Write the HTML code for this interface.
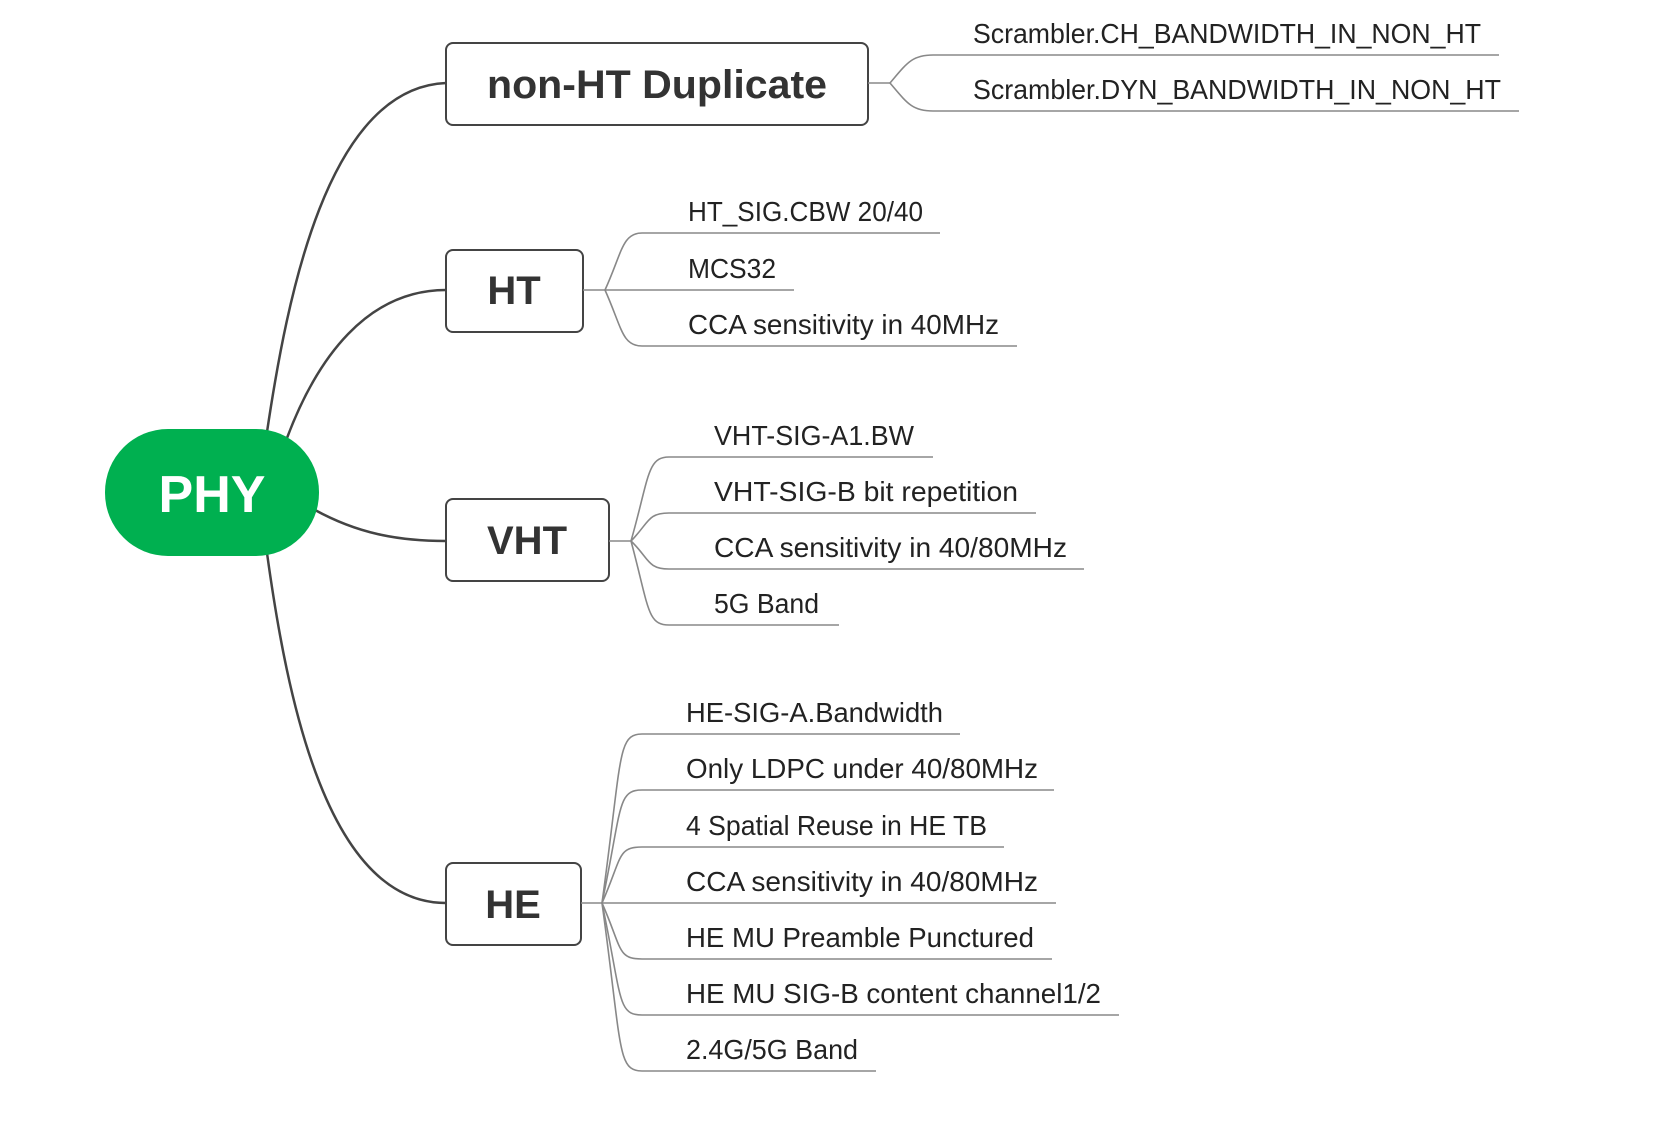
<!DOCTYPE html>
<html><head><meta charset="utf-8"><style>
html,body{margin:0;padding:0;background:#fff;}
svg{display:block;}
.b{font-family:"Liberation Sans",sans-serif;font-weight:bold;fill:#333;}
.l{font-family:"Liberation Sans",sans-serif;font-size:28px;fill:#222;}
</style></head><body>
<svg width="1666" height="1148" viewBox="0 0 1666 1148" xmlns="http://www.w3.org/2000/svg">
<g transform="translate(-3,-2)">
<g fill="none" stroke="#444" stroke-width="2.5">
<path d="M270 434 C290 300 330 90 449 85"/>
<path d="M290 440 C320 360 370 292 449 292"/>
<path d="M318 512 C360 535 400 543 449 543"/>
<path d="M270 555 C290 700 330 905 449 905"/>
</g>
<rect x="108" y="431" width="214" height="127" rx="63" fill="#00b050"/>
<text x="215" y="514" text-anchor="middle" class="b" style="fill:#fff;font-size:52px">PHY</text>
<g fill="#fff" stroke="#444" stroke-width="2">
<rect x="449" y="45" width="422" height="82" rx="7"/>
<rect x="449" y="252" width="137" height="82" rx="7"/>
<rect x="449" y="501" width="163" height="82" rx="7"/>
<rect x="449" y="865" width="135" height="82" rx="7"/>
</g>
<text x="660" y="100" text-anchor="middle" class="b" style="font-size:40px" textLength="340" lengthAdjust="spacingAndGlyphs">non-HT Duplicate</text>
<text x="517" y="306" text-anchor="middle" class="b" style="font-size:40px">HT</text>
<text x="530" y="556" text-anchor="middle" class="b" style="font-size:40px">VHT</text>
<text x="516" y="920" text-anchor="middle" class="b" style="font-size:40px">HE</text>
<g fill="none" stroke="#888" stroke-width="1.6">
<path d="M871 85 H893"/>
<path d="M893 85 C910 65 915 57 936 57 H1502"/>
<path d="M893 85 C910 105 915 113 936 113 H1522"/>
<path d="M586 292 H608"/>
<path d="M608 292 C625 255 625 235 645 235 H943"/>
<path d="M608 292 H797"/>
<path d="M608 292 C625 330 625 348 645 348 H1020"/>
<path d="M612 543 H634"/>
<path d="M634 543 C652 480 650 459 672 459 H936"/>
<path d="M634 543 C652 525 650 515 672 515 H1039"/>
<path d="M634 543 C652 560 650 571 672 571 H1087"/>
<path d="M634 543 C652 610 650 627 672 627 H842"/>
<path d="M584 905 H605"/>
<path d="M605 905 C625 760 620 736 645 736 H963"/>
<path d="M605 905 C625 810 620 792 645 792 H1057"/>
<path d="M605 905 C625 860 620 849 645 849 H1007"/>
<path d="M605 905 H1059"/>
<path d="M605 905 C625 950 620 961 645 961 H1055"/>
<path d="M605 905 C625 1000 620 1017 645 1017 H1122"/>
<path d="M605 905 C625 1050 620 1073 645 1073 H879"/>
</g>
<text class="l" x="976" y="45" textLength="508" lengthAdjust="spacingAndGlyphs">Scrambler.CH_BANDWIDTH_IN_NON_HT</text>
<text class="l" x="976" y="101" textLength="528" lengthAdjust="spacingAndGlyphs">Scrambler.DYN_BANDWIDTH_IN_NON_HT</text>
<text class="l" x="691" y="223" textLength="235" lengthAdjust="spacingAndGlyphs">HT_SIG.CBW 20/40</text>
<text class="l" x="691" y="280" textLength="88" lengthAdjust="spacingAndGlyphs">MCS32</text>
<text class="l" x="691" y="336" textLength="311" lengthAdjust="spacingAndGlyphs">CCA sensitivity in 40MHz</text>
<text class="l" x="717" y="447" textLength="200" lengthAdjust="spacingAndGlyphs">VHT-SIG-A1.BW</text>
<text class="l" x="717" y="503" textLength="304" lengthAdjust="spacingAndGlyphs">VHT-SIG-B bit repetition</text>
<text class="l" x="717" y="559" textLength="353" lengthAdjust="spacingAndGlyphs">CCA sensitivity in 40/80MHz</text>
<text class="l" x="717" y="615" textLength="105" lengthAdjust="spacingAndGlyphs">5G Band</text>
<text class="l" x="689" y="724" textLength="257" lengthAdjust="spacingAndGlyphs">HE-SIG-A.Bandwidth</text>
<text class="l" x="689" y="780" textLength="352" lengthAdjust="spacingAndGlyphs">Only LDPC under 40/80MHz</text>
<text class="l" x="689" y="837" textLength="301" lengthAdjust="spacingAndGlyphs">4 Spatial Reuse in HE TB</text>
<text class="l" x="689" y="893" textLength="352" lengthAdjust="spacingAndGlyphs">CCA sensitivity in 40/80MHz</text>
<text class="l" x="689" y="949" textLength="348" lengthAdjust="spacingAndGlyphs">HE MU Preamble Punctured</text>
<text class="l" x="689" y="1005" textLength="415" lengthAdjust="spacingAndGlyphs">HE MU SIG-B content channel1/2</text>
<text class="l" x="689" y="1061" textLength="172" lengthAdjust="spacingAndGlyphs">2.4G/5G Band</text>
</g>
</svg>
</body></html>
